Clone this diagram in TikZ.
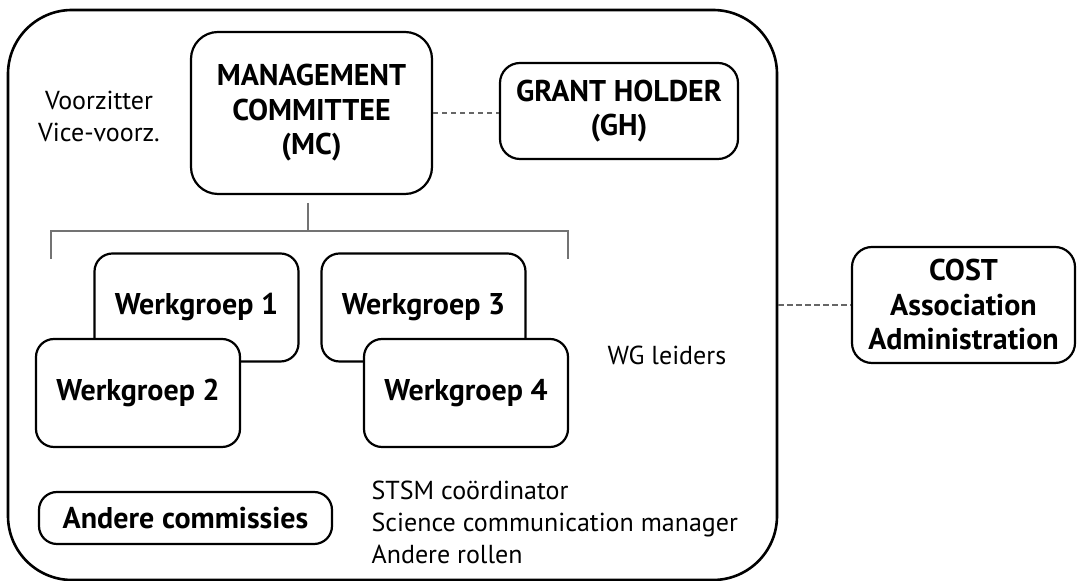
\documentclass[tikz,border=0pt]{standalone}
\usepackage{fontspec}
\setmainfont{PT Sans}
\usetikzlibrary{calc}
\usetikzlibrary{positioning}

\begin{document}
\begin{tikzpicture}[x=0.5pt,y=-0.5pt,-,auto,semithick]
						\tikzstyle{blok}=[draw, fill=white, line width=1.1pt, rounded corners=10pt, align=center, inner sep=0pt, font=\bfseries\fontsize{15}{17.25}\selectfont]
						\tikzstyle{wg}=[blok, minimum width=102pt, minimum height=54pt, rounded corners=9pt]
						\tikzstyle{plain}=[inner sep=0pt, font=\fontsize{13}{16}\selectfont]
						\tikzstyle{tak}=[draw, black!55, line width=1pt]
						\tikzstyle{stip}=[draw, black!60, line width=1pt, dash pattern=on 2.6pt off 1.9pt]
						\useasboundingbox (0,0) rectangle (1077,581);
						\node[draw, line width=1.3pt, rounded corners=32pt, minimum width=384.5pt, minimum height=285pt] (frame) at (392.5,295) {};
						\node[blok, rounded corners=13.5pt, minimum width=120.5pt, minimum height=81pt] (MC) at (311.5,113) {MANAGEMENT\\COMMITTEE\\(MC)};
						\node[blok, minimum width=119pt, minimum height=48pt] (GH) at (619,111) {GRANT HOLDER\\(GH)};
						\node[blok, minimum width=111.5pt, minimum height=58pt] (COST) at (963.5,305) {COST\\Association\\Administration};
						\node[plain, align=center] (VZ) at (99,116) {Voorzitter\\Vice-voorz.};
						\node[wg] (W1) at (196.5,307.5) {Werkgroep 1};
						\node[wg] (W2) at (138,393) {Werkgroep 2};
						\node[wg] (W3) at (423.5,307.5) {Werkgroep 3};
						\node[wg] (W4) at (466,393) {Werkgroep 4};
						\node[plain, anchor=west] (WGL) at (607,355) {WG leiders};
						\node[blok, minimum width=146.5pt, minimum height=26pt, rounded corners=9pt] (AC) at (185.5,518) {Andere commissies};
						\node[plain, anchor=west, align=left] (ROL) at (371,522) {STSM coördinator\\Science communication manager\\Andere rollen};
						\coordinate (top) at (308,203);
						\coordinate (mid) at (308,231);
						\coordinate (L) at (51,259);
						\coordinate (R) at (568,259);
 				  \path[tak]
					 (top) -- (mid)
					 (L) |- (mid) -| (R);
 				  \path[stip]
					 (MC.east) -- (MC.east -| GH.west)
					 (COST.west -| frame.east) -- (COST.west);
				\end{tikzpicture}
\end{document}
